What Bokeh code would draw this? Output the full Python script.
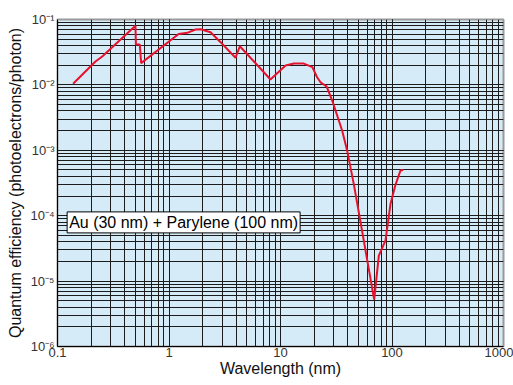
from bokeh.plotting import figure
from bokeh.models import CustomJSTickFormatter, Label, Grid
from bokeh.embed import file_html
from bokeh.resources import INLINE

wavelength_nm = [0.138, 0.219, 0.252, 0.50, 0.505, 0.547, 0.563, 1.22, 1.46, 1.73,
                 1.92, 2.36, 2.90, 3.95, 4.32, 8.13, 11.1, 13.2, 16.2, 19.3,
                 21.3, 23.0, 25.9, 29.1, 35.7, 39.6, 45.4, 55.8, 69.2, 76.2,
                 87.5, 97.0, 107.0, 119.0, 126.0]
quantum_eff = [0.0104, 0.0228, 0.0272, 0.080, 0.0415, 0.0415, 0.0215, 0.060, 0.0626, 0.0703,
               0.071, 0.064, 0.045, 0.026, 0.039, 0.0121, 0.0198, 0.0212, 0.0212, 0.0187,
               0.0131, 0.0108, 0.0095, 0.00577, 0.00201, 0.00099, 0.000307, 4.2e-5, 5.2e-6, 2.46e-5,
               4.2e-5, 1.52e-4, 2.9e-4, 4.9e-4, 5.0e-4]
x_range = (0.1, 1000)
y_range = (1e-6, 1e-1)
series_label = "Au (30 nm) + Parylene (100 nm)"
x_title = "Wavelength (nm)"
y_title = "Quantum efficiency (photoelectrons/photon)"

FONT = "Liberation Sans"

p = figure(width=513, height=385, x_axis_type="log", y_axis_type="log",
           x_range=x_range, y_range=y_range, output_backend="svg",
           toolbar_location=None, min_border_left=57, min_border_right=10,
           min_border_top=19, min_border_bottom=39)

p.background_fill_color = "#d5ecf8"
p.border_fill_color = "white"
p.outline_line_color = "#9a9a9a"
p.outline_line_width = 2

for dim in (0, 1):
    ticker = p.xaxis[0].ticker if dim == 0 else p.yaxis[0].ticker
    halo = Grid(dimension=dim, ticker=ticker, grid_line_color="#66737a",
                grid_line_width=3, grid_line_alpha=0.45,
                minor_grid_line_color="#66737a", minor_grid_line_width=3,
                minor_grid_line_alpha=0.45, level="underlay")
    p.add_layout(halo)

for g in (p.xgrid, p.ygrid):
    g.grid_line_color = "#1c1c1c"
    g.grid_line_width = 1
    g.minor_grid_line_color = "#1c1c1c"
    g.minor_grid_line_width = 1

p.line(wavelength_nm, quantum_eff, line_color="#e8112d", line_width=2)

for ax in (p.xaxis[0], p.yaxis[0]):
    ax.major_tick_line_color = None
    ax.minor_tick_line_color = None
    ax.major_tick_out = 0
    ax.minor_tick_out = 0
    ax.major_tick_in = 0
    ax.minor_tick_in = 0
    ax.axis_line_color = "black"
    ax.major_label_text_font = FONT
    ax.major_label_text_font_size = "13px"
    ax.major_label_text_color = "#333333"
    ax.axis_label_text_font = FONT
    ax.axis_label_text_font_size = "16px"
    ax.axis_label_text_font_style = "normal"
    ax.axis_label_text_color = "#111111"

p.xaxis.axis_label = x_title
p.yaxis.axis_label = y_title
p.xaxis.major_label_standoff = 1
p.xaxis.axis_label_standoff = 0
p.yaxis.major_label_standoff = 3
p.yaxis.axis_label_standoff = 3

p.xaxis.formatter = CustomJSTickFormatter(code="""
    return Number(tick.toPrecision(3)).toString();
""")
p.yaxis.formatter = CustomJSTickFormatter(code="""
    const sup = {'-':'\u207b','0':'\u2070','1':'\u00b9','2':'\u00b2','3':'\u00b3',
                 '4':'\u2074','5':'\u2075','6':'\u2076','7':'\u2077','8':'\u2078','9':'\u2079'};
    const e = Math.round(Math.log10(tick));
    return '10' + String(e).split('').map(c => sup[c]).join('');
""")

p.add_layout(Label(x=0.122, y=7.9e-5, text=series_label, text_align="left",
                   text_baseline="middle", text_font=FONT, text_font_size="16px",
                   text_color="black", background_fill_color="white",
                   border_line_color="black", border_line_width=1, padding=2))

open("out.html", "w").write(file_html(p, INLINE))
